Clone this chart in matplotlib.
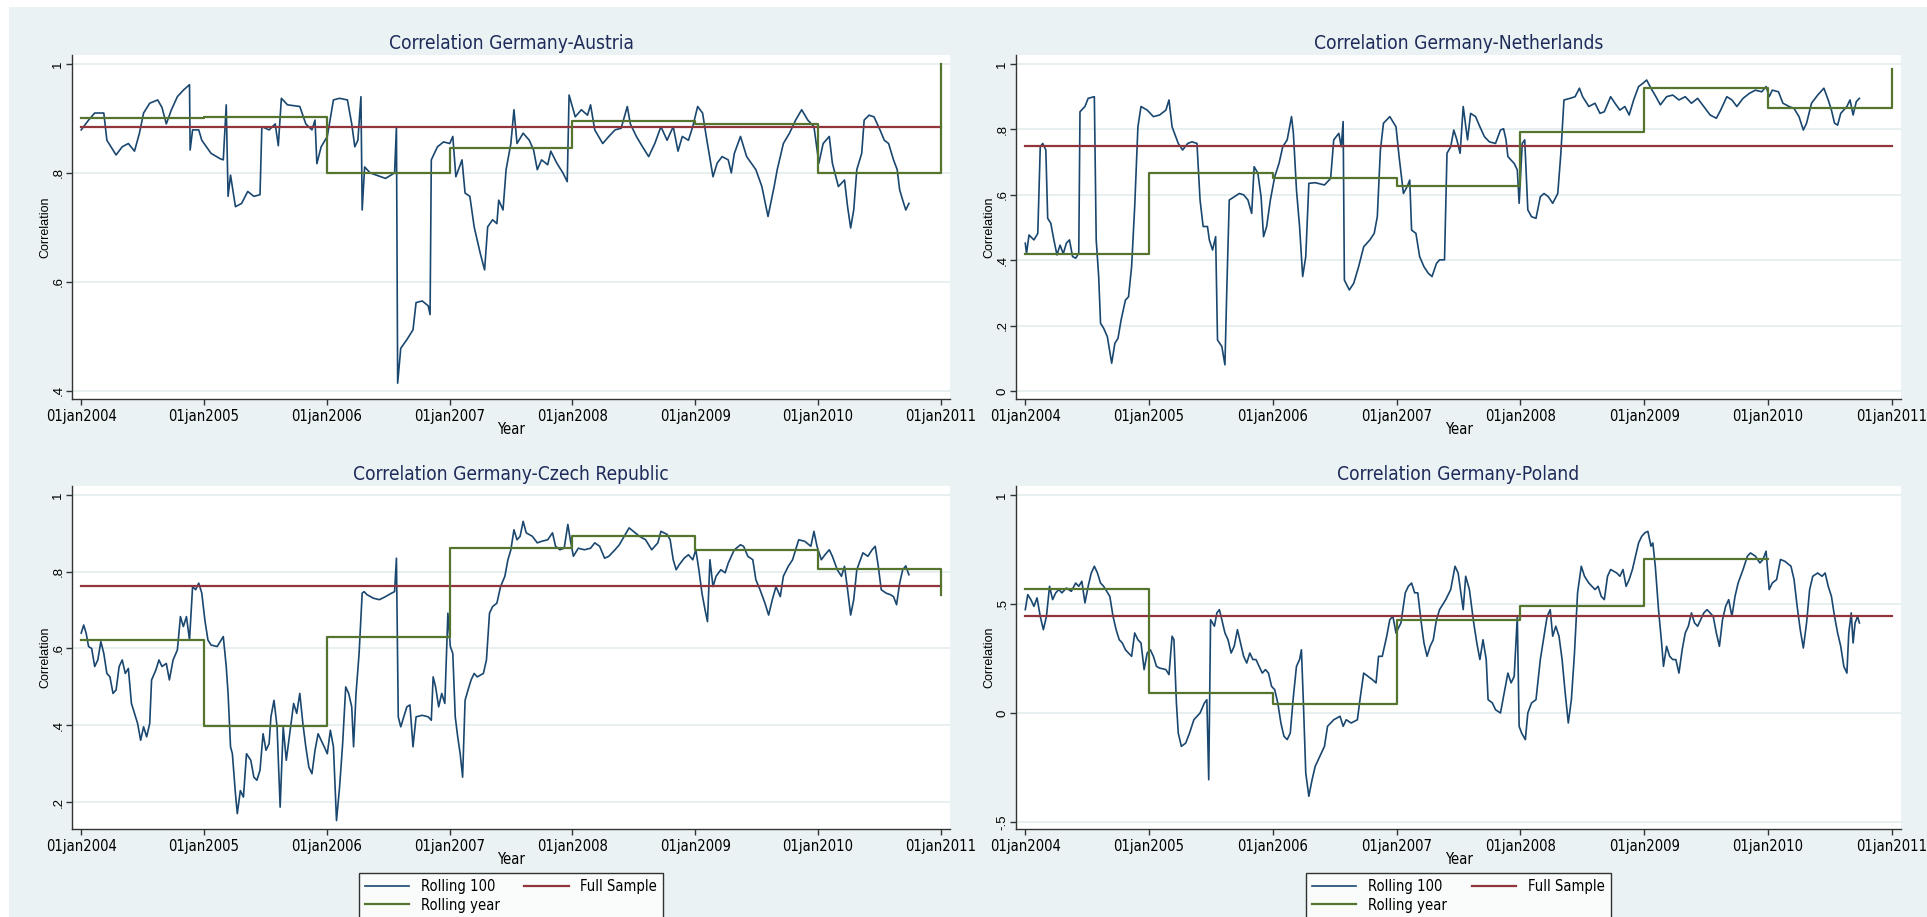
#! /usr/bin/python3
import matplotlib
matplotlib.use('Agg')
from matplotlib import pyplot as plt
from matplotlib import font_manager as fm
from matplotlib.patches import Rectangle


YEAR_TICKS = [2004, 2005, 2006, 2007, 2008, 2009, 2010, 2011]
YEAR_LABELS = ['01jan2004', '01jan2005', '01jan2006', '01jan2007',
               '01jan2008', '01jan2009', '01jan2010', '01jan2011']

# dates are given as years after 01jan2004

# Germany-Austria
aut_t = [0.000, 0.060, 0.110, 0.184, 0.209, 0.259, 0.284, 0.334, 0.384, 0.434,
         0.474, 0.508, 0.558, 0.623, 0.658, 0.693, 0.733, 0.783, 0.832, 0.882,
         0.887, 0.907, 0.957, 0.982, 1.057, 1.132, 1.157, 1.181, 1.196, 1.216,
         1.256, 1.306, 1.356, 1.406, 1.456, 1.471, 1.530, 1.580, 1.605, 1.630,
         1.680, 1.780, 1.829, 1.879, 1.904, 1.919, 1.954, 2.004, 2.054, 2.104,
         2.168, 2.203, 2.228, 2.253, 2.278, 2.288, 2.308, 2.353, 2.428, 2.478,
         2.552, 2.567, 2.577, 2.602, 2.652, 2.702, 2.727, 2.777, 2.826, 2.841,
         2.851, 2.901, 2.951, 3.001, 3.026, 3.051, 3.101, 3.126, 3.165, 3.200,
         3.250, 3.285, 3.310, 3.350, 3.385, 3.400, 3.435, 3.460, 3.499, 3.524,
         3.549, 3.599, 3.649, 3.684, 3.714, 3.749, 3.799, 3.824, 3.873, 3.923,
         3.958, 3.973, 4.023, 4.073, 4.123, 4.148, 4.182, 4.247, 4.297, 4.347,
         4.397, 4.447, 4.472, 4.521, 4.571, 4.621, 4.671, 4.721, 4.771, 4.821,
         4.860, 4.895, 4.945, 4.980, 5.020, 5.060, 5.095, 5.145, 5.179, 5.219,
         5.269, 5.294, 5.319, 5.369, 5.419, 5.494, 5.543, 5.593, 5.643, 5.668,
         5.718, 5.768, 5.818, 5.867, 5.917, 5.967, 6.007, 6.042, 6.092, 6.117,
         6.166, 6.216, 6.241, 6.266, 6.291, 6.316, 6.356, 6.376, 6.416, 6.456,
         6.505, 6.540, 6.575, 6.615, 6.645, 6.665, 6.690, 6.715, 6.740]
aut_r100 = [0.879, 0.897, 0.910, 0.910, 0.860, 0.842, 0.833, 0.848, 0.854, 0.840,
            0.873, 0.910, 0.928, 0.934, 0.920, 0.890, 0.915, 0.940, 0.952, 0.962,
            0.842, 0.879, 0.879, 0.860, 0.836, 0.826, 0.824, 0.925, 0.757, 0.796,
            0.738, 0.744, 0.766, 0.757, 0.760, 0.885, 0.879, 0.890, 0.850, 0.937,
            0.925, 0.922, 0.890, 0.879, 0.897, 0.817, 0.848, 0.867, 0.934, 0.937,
            0.934, 0.890, 0.848, 0.860, 0.940, 0.732, 0.811, 0.800, 0.794, 0.790,
            0.800, 0.885, 0.414, 0.478, 0.494, 0.512, 0.562, 0.565, 0.556, 0.540,
            0.824, 0.848, 0.857, 0.854, 0.867, 0.793, 0.824, 0.763, 0.757, 0.701,
            0.652, 0.622, 0.701, 0.714, 0.707, 0.750, 0.732, 0.806, 0.854, 0.916,
            0.854, 0.873, 0.860, 0.842, 0.806, 0.824, 0.815, 0.840, 0.818, 0.800,
            0.784, 0.943, 0.903, 0.916, 0.906, 0.925, 0.879, 0.854, 0.867, 0.879,
            0.882, 0.922, 0.890, 0.867, 0.848, 0.830, 0.854, 0.885, 0.860, 0.885,
            0.840, 0.867, 0.860, 0.885, 0.922, 0.910, 0.860, 0.793, 0.818, 0.830,
            0.824, 0.800, 0.836, 0.867, 0.830, 0.806, 0.775, 0.720, 0.775, 0.806,
            0.854, 0.873, 0.897, 0.916, 0.897, 0.885, 0.818, 0.854, 0.867, 0.818,
            0.775, 0.787, 0.738, 0.699, 0.732, 0.806, 0.836, 0.897, 0.906, 0.903,
            0.879, 0.860, 0.854, 0.824, 0.806, 0.769, 0.750, 0.732, 0.744]
aut_year = [0.900, 0.902, 0.800, 0.845, 0.896, 0.890, 0.800, 1.000]
aut_full = 0.884

# Germany-Netherlands
nld_t = [0.000, 0.010, 0.030, 0.070, 0.101, 0.121, 0.141, 0.166, 0.181, 0.206,
         0.231, 0.256, 0.281, 0.307, 0.332, 0.357, 0.382, 0.407, 0.432, 0.442,
         0.482, 0.508, 0.558, 0.573, 0.593, 0.608, 0.633, 0.663, 0.698, 0.724,
         0.749, 0.774, 0.809, 0.834, 0.859, 0.884, 0.910, 0.935, 0.985, 1.035,
         1.085, 1.136, 1.161, 1.186, 1.236, 1.271, 1.312, 1.347, 1.387, 1.412,
         1.437, 1.472, 1.487, 1.513, 1.538, 1.553, 1.588, 1.613, 1.628, 1.648,
         1.688, 1.729, 1.764, 1.799, 1.829, 1.849, 1.879, 1.905, 1.925, 1.950,
         1.980, 2.015, 2.050, 2.080, 2.116, 2.151, 2.166, 2.191, 2.216, 2.241,
         2.266, 2.291, 2.342, 2.417, 2.467, 2.492, 2.533, 2.553, 2.568, 2.578,
         2.618, 2.653, 2.693, 2.734, 2.784, 2.819, 2.844, 2.869, 2.894, 2.945,
         2.995, 3.020, 3.055, 3.085, 3.106, 3.121, 3.156, 3.186, 3.221, 3.256,
         3.286, 3.322, 3.347, 3.387, 3.407, 3.437, 3.462, 3.487, 3.513, 3.538,
         3.573, 3.598, 3.638, 3.673, 3.709, 3.749, 3.799, 3.839, 3.864, 3.884,
         3.899, 3.925, 3.950, 3.975, 3.990, 4.015, 4.035, 4.060, 4.090, 4.126,
         4.161, 4.191, 4.226, 4.261, 4.302, 4.327, 4.352, 4.402, 4.442, 4.477,
         4.503, 4.553, 4.603, 4.643, 4.678, 4.729, 4.764, 4.804, 4.844, 4.879,
         4.915, 4.955, 4.990, 5.020, 5.055, 5.095, 5.131, 5.181, 5.231, 5.281,
         5.332, 5.382, 5.432, 5.482, 5.533, 5.583, 5.618, 5.668, 5.709, 5.749,
         5.799, 5.849, 5.899, 5.950, 5.985, 6.010, 6.035, 6.085, 6.121, 6.171,
         6.211, 6.251, 6.286, 6.312, 6.352, 6.402, 6.452, 6.487, 6.513, 6.538,
         6.563, 6.588, 6.638, 6.663, 6.688, 6.714, 6.739]
nld_r100 = [0.452, 0.420, 0.477, 0.462, 0.482, 0.747, 0.757, 0.737, 0.528, 0.513,
            0.462, 0.416, 0.446, 0.420, 0.452, 0.462, 0.411, 0.406, 0.421, 0.854,
            0.870, 0.895, 0.900, 0.462, 0.350, 0.207, 0.192, 0.166, 0.085, 0.146,
            0.161, 0.217, 0.278, 0.288, 0.380, 0.564, 0.808, 0.870, 0.859, 0.839,
            0.844, 0.859, 0.890, 0.808, 0.757, 0.737, 0.757, 0.762, 0.757, 0.584,
            0.503, 0.503, 0.462, 0.431, 0.472, 0.156, 0.136, 0.080, 0.309, 0.584,
            0.594, 0.604, 0.600, 0.584, 0.543, 0.686, 0.666, 0.594, 0.472, 0.503,
            0.584, 0.655, 0.696, 0.747, 0.768, 0.839, 0.788, 0.615, 0.503, 0.350,
            0.411, 0.635, 0.637, 0.630, 0.650, 0.768, 0.788, 0.747, 0.824, 0.339,
            0.309, 0.329, 0.380, 0.441, 0.462, 0.482, 0.533, 0.737, 0.819, 0.839,
            0.808, 0.717, 0.604, 0.625, 0.645, 0.492, 0.482, 0.411, 0.380, 0.360,
            0.350, 0.390, 0.401, 0.401, 0.727, 0.747, 0.798, 0.768, 0.727, 0.870,
            0.768, 0.849, 0.839, 0.808, 0.778, 0.762, 0.757, 0.798, 0.802, 0.768,
            0.717, 0.706, 0.696, 0.676, 0.574, 0.757, 0.768, 0.554, 0.533, 0.528,
            0.594, 0.604, 0.594, 0.574, 0.604, 0.727, 0.890, 0.895, 0.900, 0.926,
            0.900, 0.870, 0.880, 0.849, 0.854, 0.900, 0.880, 0.859, 0.870, 0.844,
            0.890, 0.931, 0.941, 0.951, 0.926, 0.900, 0.875, 0.900, 0.905, 0.890,
            0.900, 0.880, 0.895, 0.870, 0.844, 0.834, 0.859, 0.900, 0.890, 0.870,
            0.895, 0.910, 0.920, 0.915, 0.931, 0.900, 0.920, 0.915, 0.880, 0.870,
            0.864, 0.839, 0.798, 0.819, 0.880, 0.905, 0.926, 0.890, 0.859, 0.819,
            0.813, 0.849, 0.870, 0.890, 0.844, 0.885, 0.895]
nld_year = [0.419, 0.668, 0.650, 0.628, 0.793, 0.927, 0.864, 0.984]
nld_full = 0.749

# Germany-Czech Republic
cze_t = [0.000, 0.020, 0.040, 0.060, 0.085, 0.110, 0.135, 0.160, 0.184, 0.209,
         0.234, 0.259, 0.284, 0.309, 0.334, 0.359, 0.384, 0.409, 0.434, 0.459,
         0.484, 0.508, 0.533, 0.558, 0.573, 0.608, 0.633, 0.658, 0.693, 0.718,
         0.748, 0.783, 0.808, 0.832, 0.857, 0.882, 0.907, 0.932, 0.957, 0.982,
         1.007, 1.032, 1.057, 1.107, 1.157, 1.181, 1.196, 1.216, 1.231, 1.256,
         1.271, 1.296, 1.321, 1.346, 1.381, 1.406, 1.431, 1.456, 1.481, 1.505,
         1.530, 1.545, 1.570, 1.595, 1.620, 1.645, 1.670, 1.695, 1.730, 1.755,
         1.780, 1.805, 1.829, 1.854, 1.879, 1.904, 1.929, 1.954, 1.979, 2.004,
         2.029, 2.054, 2.079, 2.104, 2.129, 2.154, 2.178, 2.203, 2.218, 2.238,
         2.263, 2.288, 2.303, 2.328, 2.378, 2.428, 2.478, 2.527, 2.552, 2.567,
         2.582, 2.602, 2.627, 2.652, 2.677, 2.702, 2.727, 2.777, 2.826, 2.851,
         2.866, 2.886, 2.911, 2.936, 2.961, 2.986, 3.006, 3.026, 3.046, 3.066,
         3.086, 3.106, 3.126, 3.150, 3.175, 3.200, 3.225, 3.275, 3.300, 3.325,
         3.350, 3.385, 3.415, 3.450, 3.475, 3.499, 3.524, 3.549, 3.574, 3.599,
         3.624, 3.674, 3.714, 3.749, 3.799, 3.838, 3.863, 3.898, 3.933, 3.963,
         3.983, 4.008, 4.048, 4.098, 4.148, 4.182, 4.222, 4.262, 4.297, 4.347,
         4.382, 4.422, 4.462, 4.496, 4.546, 4.596, 4.646, 4.696, 4.721, 4.771,
         4.796, 4.821, 4.845, 4.870, 4.910, 4.945, 4.980, 5.005, 5.030, 5.055,
         5.080, 5.100, 5.120, 5.145, 5.170, 5.209, 5.244, 5.269, 5.294, 5.319,
         5.369, 5.394, 5.429, 5.469, 5.494, 5.528, 5.568, 5.598, 5.628, 5.658,
         5.693, 5.718, 5.758, 5.793, 5.843, 5.892, 5.942, 5.967, 5.992, 6.027,
         6.057, 6.092, 6.117, 6.157, 6.191, 6.216, 6.241, 6.266, 6.291, 6.316,
         6.366, 6.406, 6.441, 6.466, 6.491, 6.515, 6.555, 6.590, 6.615, 6.640,
         6.665, 6.690, 6.715, 6.740]
cze_r100 = [0.640, 0.661, 0.640, 0.605, 0.600, 0.553, 0.570, 0.618, 0.587, 0.535,
            0.526, 0.483, 0.492, 0.553, 0.570, 0.535, 0.548, 0.457, 0.431, 0.405,
            0.361, 0.396, 0.370, 0.405, 0.518, 0.544, 0.570, 0.553, 0.561, 0.518,
            0.570, 0.596, 0.683, 0.657, 0.683, 0.622, 0.761, 0.753, 0.770, 0.744,
            0.674, 0.622, 0.609, 0.605, 0.631, 0.553, 0.483, 0.344, 0.326, 0.222,
            0.170, 0.230, 0.213, 0.326, 0.309, 0.265, 0.257, 0.283, 0.378, 0.335,
            0.352, 0.422, 0.465, 0.396, 0.187, 0.396, 0.309, 0.370, 0.457, 0.431,
            0.483, 0.405, 0.344, 0.291, 0.274, 0.335, 0.378, 0.361, 0.344, 0.326,
            0.387, 0.344, 0.152, 0.239, 0.352, 0.500, 0.483, 0.448, 0.344, 0.483,
            0.587, 0.744, 0.748, 0.740, 0.731, 0.727, 0.735, 0.744, 0.748, 0.835,
            0.422, 0.396, 0.422, 0.448, 0.453, 0.344, 0.422, 0.426, 0.422, 0.413,
            0.526, 0.500, 0.448, 0.483, 0.457, 0.692, 0.605, 0.587, 0.422, 0.370,
            0.326, 0.265, 0.465, 0.492, 0.518, 0.535, 0.526, 0.535, 0.570, 0.692,
            0.709, 0.718, 0.761, 0.788, 0.831, 0.857, 0.909, 0.883, 0.892, 0.931,
            0.901, 0.892, 0.875, 0.879, 0.883, 0.901, 0.866, 0.857, 0.861, 0.923,
            0.883, 0.840, 0.861, 0.857, 0.861, 0.875, 0.866, 0.835, 0.840, 0.857,
            0.870, 0.892, 0.914, 0.905, 0.892, 0.883, 0.857, 0.875, 0.905, 0.897,
            0.883, 0.831, 0.805, 0.818, 0.835, 0.844, 0.831, 0.857, 0.805, 0.744,
            0.701, 0.670, 0.831, 0.761, 0.788, 0.805, 0.797, 0.822, 0.840, 0.857,
            0.870, 0.866, 0.840, 0.831, 0.779, 0.753, 0.718, 0.687, 0.727, 0.761,
            0.735, 0.788, 0.814, 0.831, 0.883, 0.879, 0.866, 0.905, 0.866, 0.831,
            0.844, 0.857, 0.840, 0.805, 0.788, 0.814, 0.753, 0.687, 0.727, 0.805,
            0.849, 0.840, 0.857, 0.866, 0.814, 0.753, 0.744, 0.740, 0.735, 0.714,
            0.770, 0.805, 0.815, 0.792]
cze_year = [0.621, 0.398, 0.629, 0.862, 0.893, 0.857, 0.808, 0.740]
cze_full = 0.763

# Germany-Poland
pol_t = [0.000, 0.020, 0.045, 0.070, 0.095, 0.121, 0.146, 0.171, 0.196, 0.221,
         0.246, 0.271, 0.296, 0.332, 0.372, 0.407, 0.432, 0.457, 0.482, 0.508,
         0.533, 0.558, 0.583, 0.608, 0.633, 0.658, 0.683, 0.709, 0.734, 0.759,
         0.784, 0.809, 0.834, 0.859, 0.884, 0.910, 0.935, 0.960, 0.985, 1.010,
         1.035, 1.060, 1.085, 1.136, 1.161, 1.186, 1.201, 1.221, 1.236, 1.261,
         1.296, 1.327, 1.362, 1.412, 1.447, 1.467, 1.482, 1.497, 1.528, 1.548,
         1.568, 1.588, 1.613, 1.638, 1.663, 1.688, 1.714, 1.739, 1.764, 1.789,
         1.814, 1.839, 1.864, 1.889, 1.915, 1.940, 1.965, 1.990, 2.015, 2.040,
         2.065, 2.090, 2.116, 2.141, 2.166, 2.191, 2.216, 2.231, 2.246, 2.266,
         2.291, 2.317, 2.342, 2.367, 2.417, 2.442, 2.492, 2.543, 2.568, 2.593,
         2.633, 2.683, 2.704, 2.734, 2.769, 2.804, 2.834, 2.854, 2.884, 2.920,
         2.945, 2.970, 2.995, 3.035, 3.070, 3.095, 3.121, 3.146, 3.171, 3.196,
         3.221, 3.246, 3.271, 3.296, 3.322, 3.347, 3.397, 3.437, 3.472, 3.497,
         3.538, 3.558, 3.588, 3.623, 3.648, 3.673, 3.698, 3.724, 3.739, 3.774,
         3.799, 3.839, 3.874, 3.899, 3.925, 3.950, 3.975, 3.990, 4.010, 4.040,
         4.060, 4.090, 4.126, 4.161, 4.191, 4.216, 4.241, 4.261, 4.286, 4.312,
         4.337, 4.362, 4.387, 4.412, 4.437, 4.462, 4.492, 4.518, 4.553, 4.578,
         4.603, 4.628, 4.653, 4.678, 4.704, 4.729, 4.779, 4.804, 4.829, 4.854,
         4.879, 4.905, 4.930, 4.955, 4.980, 5.005, 5.030, 5.055, 5.070, 5.090,
         5.116, 5.141, 5.156, 5.181, 5.206, 5.231, 5.256, 5.281, 5.307, 5.332,
         5.357, 5.382, 5.407, 5.432, 5.457, 5.482, 5.508, 5.533, 5.558, 5.583,
         5.608, 5.633, 5.658, 5.683, 5.709, 5.734, 5.759, 5.799, 5.834, 5.859,
         5.899, 5.935, 5.960, 5.985, 6.010, 6.035, 6.070, 6.101, 6.136, 6.186,
         6.211, 6.236, 6.261, 6.286, 6.312, 6.337, 6.362, 6.402, 6.437, 6.462,
         6.487, 6.513, 6.538, 6.563, 6.588, 6.613, 6.638, 6.653, 6.673, 6.688,
         6.704, 6.724, 6.739]
pol_r100 = [0.474, 0.543, 0.520, 0.489, 0.528, 0.443, 0.382, 0.443, 0.581, 0.520,
            0.551, 0.566, 0.551, 0.573, 0.558, 0.596, 0.581, 0.604, 0.505, 0.581,
            0.642, 0.673, 0.642, 0.596, 0.581, 0.558, 0.535, 0.443, 0.382, 0.336,
            0.321, 0.290, 0.275, 0.260, 0.367, 0.336, 0.321, 0.199, 0.275, 0.290,
            0.260, 0.214, 0.206, 0.199, 0.176, 0.352, 0.336, 0.046, -0.092, -0.153,
            -0.138, -0.092, -0.031, 0.000, 0.046, 0.061, -0.306, 0.428, 0.398, 0.459,
            0.474, 0.428, 0.367, 0.336, 0.275, 0.306, 0.382, 0.321, 0.260, 0.229,
            0.275, 0.245, 0.245, 0.214, 0.183, 0.199, 0.183, 0.122, 0.107, 0.046,
            -0.046, -0.107, -0.122, -0.092, 0.076, 0.214, 0.245, 0.290, 0.061, -0.275,
            -0.382, -0.306, -0.245, -0.214, -0.153, -0.061, -0.031, -0.015, -0.061, -0.031,
            -0.046, -0.031, 0.061, 0.183, 0.168, 0.153, 0.138, 0.260, 0.260, 0.352,
            0.428, 0.443, 0.367, 0.413, 0.551, 0.581, 0.596, 0.551, 0.551, 0.428,
            0.321, 0.260, 0.306, 0.336, 0.428, 0.474, 0.520, 0.566, 0.673, 0.642,
            0.474, 0.627, 0.566, 0.413, 0.321, 0.245, 0.336, 0.245, 0.061, 0.046,
            0.015, 0.000, 0.107, 0.183, 0.138, 0.168, 0.443, -0.061, -0.092, -0.122,
            0.000, 0.046, 0.061, 0.245, 0.352, 0.443, 0.474, 0.352, 0.398, 0.352,
            0.245, 0.092, -0.046, 0.061, 0.275, 0.551, 0.673, 0.627, 0.596, 0.581,
            0.566, 0.581, 0.535, 0.520, 0.627, 0.658, 0.642, 0.627, 0.658, 0.581,
            0.612, 0.658, 0.719, 0.780, 0.810, 0.826, 0.833, 0.765, 0.780, 0.673,
            0.474, 0.321, 0.214, 0.306, 0.260, 0.245, 0.245, 0.183, 0.290, 0.367,
            0.398, 0.459, 0.413, 0.398, 0.428, 0.459, 0.474, 0.459, 0.443, 0.367,
            0.306, 0.428, 0.489, 0.520, 0.443, 0.535, 0.596, 0.658, 0.719, 0.734,
            0.719, 0.688, 0.704, 0.742, 0.566, 0.596, 0.612, 0.704, 0.696, 0.673,
            0.612, 0.489, 0.382, 0.298, 0.413, 0.566, 0.627, 0.642, 0.627, 0.642,
            0.581, 0.535, 0.443, 0.367, 0.306, 0.214, 0.183, 0.367, 0.459, 0.321,
            0.413, 0.443, 0.413]
pol_year = [0.569, 0.093, 0.040, 0.428, 0.491, 0.708, 0.708]
pol_full = 0.445

TITLES = ['Correlation Germany-Austria', 'Correlation Germany-Netherlands',
          'Correlation Germany-Czech Republic', 'Correlation Germany-Poland']
Y_TICKS = [[0.4, 0.6, 0.8, 1.0], [0, 0.2, 0.4, 0.6, 0.8, 1.0],
           [0.2, 0.4, 0.6, 0.8, 1.0], [-0.5, 0, 0.5, 1.0]]
Y_TICKLABELS = [['.4', '.6', '.8', '1'], ['0', '.2', '.4', '.6', '.8', '1'],
                ['.2', '.4', '.6', '.8', '1'], ['-.5', '0', '.5', '1']]
LEGEND_LABELS = ['Rolling 100', 'Full Sample', 'Rolling year']

BG = '#EAF2F3'
NAVY = '#1A476F'
MAROON = '#90353B'
GREEN = '#55752F'
ARIAL = ['Liberation Sans', 'DejaVu Sans']

W, H = 1927, 917


def narrow_font():
    # Stata draws titles and dates in a narrow face; use whatever is there
    fonts = fm.fontManager.ttflist
    if any(f.name == 'Liberation Sans Narrow' for f in fonts):
        return {'family': 'Liberation Sans Narrow'}, 1.0
    if any(f.name == 'DejaVu Sans' and f.stretch == 'condensed' for f in fonts):
        return {'family': 'DejaVu Sans', 'stretch': 'condensed'}, 0.92
    return {'family': 'Liberation Sans'}, 0.86


NARROW, NSCALE = narrow_font()


def nfont(size):
    d = dict(NARROW)
    d['size'] = size * NSCALE
    return d


def frac(x0, y0, x1, y1):
    # pixel box -> figure fraction rect
    return [x0 / W, 1 - y1 / H, (x1 - x0) / W, (y1 - y0) / H]


def panel(ax, t, r100, year, full, title, yticks, ylabels, ylim, legend):
    x = [YEAR_TICKS[0] + v for v in t]
    l1, = ax.plot(x, r100, color=NAVY, lw=1.2, zorder=3)
    l2, = ax.plot([YEAR_TICKS[0], YEAR_TICKS[-1]], [full, full], color=MAROON, lw=1.6, zorder=4)
    l3, = ax.plot(YEAR_TICKS[:len(year)], year, color=GREEN, lw=1.6,
                  drawstyle='steps-post', zorder=5)
    ax.set_facecolor('white')
    ax.set_xlim(2003.925, 2011.075)
    ax.set_ylim(*ylim)
    ax.set_xticks(YEAR_TICKS)
    ax.set_xticklabels(YEAR_LABELS, fontdict=nfont(11.5))
    ax.set_yticks(yticks)
    ax.set_yticklabels(ylabels, family=ARIAL, fontsize=9.5, rotation=90, va='center')
    ax.yaxis.grid(True, color='#E4ECEE', lw=1.2, zorder=0)
    ax.set_axisbelow(True)
    for s in ('top', 'right'):
        ax.spines[s].set_visible(False)
    for s in ('left', 'bottom'):
        ax.spines[s].set_color('#333333')
        ax.spines[s].set_linewidth(1.0)
    ax.tick_params(length=4, width=1.0, color='#333333', labelcolor='black')
    ax.tick_params(axis='y', pad=1.5)
    ax.tick_params(axis='x', pad=3)
    ax.set_title(title, fontdict=nfont(15), color='#1E2B5A', pad=4)
    ax.set_xlabel('Year', fontdict=nfont(11.5), labelpad=-1)
    ax.set_ylabel('Correlation', family=ARIAL, fontsize=9, labelpad=1)
    if legend:
        leg = ax.legend([l1, l3, l2], [LEGEND_LABELS[0], LEGEND_LABELS[2], LEGEND_LABELS[1]],
                        ncol=2, loc='upper center', bbox_to_anchor=(0.5, -0.108),
                        frameon=True, fancybox=False, edgecolor='black',
                        prop=nfont(11.5),
                        handlelength=3.0, handletextpad=0.8, columnspacing=1.7,
                        labelspacing=0.22, borderpad=0.4)
        leg.get_frame().set_linewidth(1.0)


def main():
    fig = plt.figure(figsize=(W / 100, H / 100), dpi=100)
    fig.patch.set_facecolor('white')
    fig.add_artist(Rectangle((9 / W, 0), 1, 1 - 7 / H, transform=fig.transFigure,
                             facecolor=BG, edgecolor='none', zorder=-10))

    ax1 = fig.add_axes(frac(72, 55, 950, 399))
    ax2 = fig.add_axes(frac(1016, 55, 1901, 399))
    ax3 = fig.add_axes(frac(72, 486, 950, 829))
    ax4 = fig.add_axes(frac(1016, 486, 1901, 829))

    panel(ax1, aut_t, aut_r100, aut_year, aut_full, TITLES[0],
          Y_TICKS[0], Y_TICKLABELS[0], (0.385, 1.0165), False)
    panel(ax2, nld_t, nld_r100, nld_year, nld_full, TITLES[1],
          Y_TICKS[1], Y_TICKLABELS[1], (-0.0245, 1.0275), False)
    panel(ax3, cze_t, cze_r100, cze_year, cze_full, TITLES[2],
          Y_TICKS[2], Y_TICKLABELS[2], (0.13, 1.023), True)
    panel(ax4, pol_t, pol_r100, pol_year, pol_full, TITLES[3],
          Y_TICKS[3], Y_TICKLABELS[3], (-0.532, 1.041), True)

    fig.savefig('out.png', dpi=100, facecolor=fig.get_facecolor())


if __name__ == "__main__":
    main()
